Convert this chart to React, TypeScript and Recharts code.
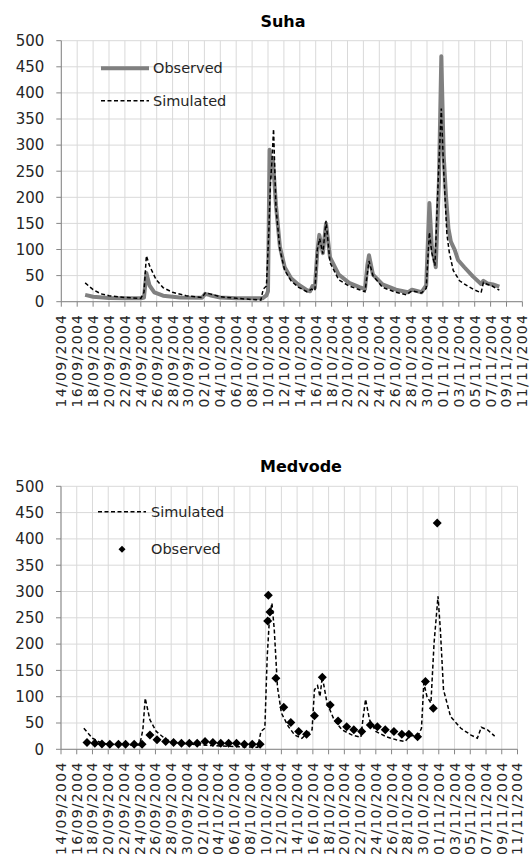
import { ComposedChart, Line, Scatter, XAxis, YAxis, CartesianGrid } from "recharts";

const tickLabels = [
  "14/09/2004", "16/09/2004", "18/09/2004", "20/09/2004", "22/09/2004",
  "24/09/2004", "26/09/2004", "28/09/2004", "30/09/2004", "02/10/2004",
  "04/10/2004", "06/10/2004", "08/10/2004", "10/10/2004", "12/10/2004",
  "14/10/2004", "16/10/2004", "18/10/2004", "20/10/2004", "22/10/2004",
  "24/10/2004", "26/10/2004", "28/10/2004", "30/10/2004", "01/11/2004",
  "03/11/2004", "05/11/2004", "07/11/2004", "09/11/2004", "11/11/2004",
];
const tickDays = tickLabels.map((_, i) => i * 2);
const yTicks = [0, 50, 100, 150, 200, 250, 300, 350, 400, 450, 500];

// Suha (days since 14/09/2004)
const suhaObsDays = [
  3, 4, 6, 8, 10, 10.4, 10.7, 11.1, 11.7, 12.8, 14.9, 17.7, 18.1, 18.7, 20, 22.1,
  25.3, 25.8, 26.0, 26.2, 26.4, 26.6, 27.0, 27.5, 28.1, 28.9, 29.8, 30.9, 31.3,
  31.6, 31.9, 32.2, 32.45, 32.9, 33.3, 33.8, 34.9, 36.2, 37.5, 38.2, 38.5, 38.7,
  39.2, 40.4, 42.1, 43.6, 44.1, 45.3, 45.9, 46.3, 46.6, 47.1, 47.5, 47.8, 48.1,
  48.4, 48.7, 49.0, 49.5, 49.9, 50.7, 51.8, 52.8, 53.1, 53.6, 54.3, 55.1,
];
const suhaObsFlow = [
  13, 9.6, 7, 6.5, 6.4, 8, 55, 31, 18, 11.5, 8, 7.5, 15, 12.5, 8, 6.4,
  6.4, 12, 20, 291, 240, 276, 185, 105, 66, 45, 33, 22, 20,
  30, 27, 95, 128, 93, 150, 85, 52, 36, 28, 24, 70, 89,
  52, 33, 23, 18, 23, 18, 31, 189, 107, 66, 230, 470, 280,
  200, 140, 115, 99, 80, 66, 48, 34, 40, 35, 33, 29,
];
const suhaSimDays = [
  3, 4, 5, 6, 8, 10, 10.4, 10.7, 11.1, 11.9, 12.8, 14, 15.7, 17.7, 18.1, 18.7, 20,
  22.1, 25.1, 25.4, 25.8, 26.1, 26.3, 26.5, 26.7, 27.0, 27.5, 28.1, 28.9, 29.8,
  30.9, 31.5, 31.9, 32.2, 32.5, 32.9, 33.3, 33.8, 34.9, 36.2, 37.5, 38.2, 38.7,
  39.2, 40.4, 42.1, 43.4, 44.1, 45.3, 45.9, 46.3, 46.6, 47.0, 47.4, 47.8, 48.1,
  48.5, 48.8, 49.3, 50.1, 51.1, 51.9, 52.8, 53.1, 53.5, 54.2, 55.1,
];
const suhaSimFlow = [
  36, 23, 15, 11.5, 8, 6.4, 18, 88, 69, 43, 27, 18, 11.5, 8, 16.6, 15, 9.6,
  6.4, 3, 24, 30, 133, 225, 270, 331, 180, 100, 60, 40, 28,
  19, 24, 21, 100, 121, 92, 155, 75, 42, 30, 23, 19, 78,
  50, 27.5, 18, 13.4, 21, 16.6, 25.5, 133, 94, 69, 229, 370, 250,
  130, 95, 60, 40, 30, 23, 17, 37, 34, 30, 22,
];

// Medvode
const medSimDays = [
  2.9, 4, 5.2, 7.4, 10, 10.4, 10.7, 11.3, 12.1, 13.4, 15.1, 18.1, 22.4, 25, 25.4,
  25.9, 26.2, 26.5, 26.8, 27.1, 27.5, 28, 28.9, 29.7, 30.6, 31.2, 31.9, 32.2,
  32.6, 32.9, 33.2, 33.8, 34.7, 35.7, 37, 38.1, 38.4, 38.7, 39.2, 40, 41.3,
  42.6, 43.7, 44.3, 45.4, 45.8, 46.1, 46.5, 47, 47.4, 47.9, 48.2, 48.6, 49.5,
  50.8, 52.1, 52.9, 53.4, 54.2, 55.1,
];
const medSimFlow = [
  40, 21, 11.4, 8, 8, 37, 97, 56, 34, 18, 11.4, 8, 5, 4, 34,
  40, 176, 253, 278, 227, 119, 69, 43, 27, 21, 29, 37, 113,
  121, 100, 138, 88, 56, 37, 27, 23, 62, 95, 56, 34, 24,
  18, 15, 25, 27, 40, 126, 100, 88, 202, 291, 227, 113, 62,
  40, 27, 21, 42, 37, 25,
];
const medObsDays = [
  3.3, 4.3, 5.2, 6.2, 7.3, 8.2, 9.3, 10.3, 11.3, 12.2, 13.3, 14.3, 15.3, 16.3,
  17.3, 18.3, 19.3, 20.3, 21.3, 22.3, 23.3, 24.3, 25.3, 26.26, 26.34, 26.55,
  27.3, 28.3, 29.2, 30.2, 31.2, 32.2, 33.2, 34.2, 35.2, 36.3, 37.2, 38.2, 39.3,
  40.2, 41.2, 42.3, 43.3, 44.2, 45.3, 46.3, 47.3, 47.8,
];
const medObsFlow = [
  12.7, 11.4, 10, 9.5, 9.5, 9.5, 9.5, 9.5, 27, 18, 15, 12.7, 11.4, 11.4,
  11.4, 15, 12.7, 11.4, 11.4, 11.4, 9.5, 9.5, 9.5, 244, 293, 261,
  135, 80, 51, 34, 28.5, 64, 137, 84, 54, 43, 37, 34, 46,
  43, 37, 34, 28.5, 28.5, 24, 129, 78, 430,
];

const toPoints = (days: number[], flow: number[]) =>
  days.map((d, i) => ({ day: d, value: flow[i] }));

const suhaObs = toPoints(suhaObsDays, suhaObsFlow);
const suhaSim = toPoints(suhaSimDays, suhaSimFlow);
const medSim = toPoints(medSimDays, medSimFlow);
const medObs = toPoints(medObsDays, medObsFlow);

const FONT = "'DejaVu Sans', sans-serif";
const AXIS = "#868686";
const GRID = "#d9d9d9";
const TEXT = "#262626";
const OBS_GREY = "#808080";
const DASH = "4 2.5";

// rotated date labels, reading bottom to top, ending just under the axis
const DateTick = ({ x, y, payload }: any) => {
  const label = tickLabels[Math.round(payload.value / 2)];
  const ty = y + 7;
  return (
    <text
      x={x}
      y={ty}
      dy={5}
      transform={`rotate(-90, ${x}, ${ty})`}
      textAnchor="end"
      fontSize={14}
      fontFamily={FONT}
      fill={TEXT}
      letterSpacing={1.3}
    >
      {label}
    </text>
  );
};

const Diamond = ({ cx, cy }: any) => (
  <path d={`M${cx},${cy - 4.5}L${cx + 4.5},${cy}L${cx},${cy + 4.5}L${cx - 4.5},${cy}Z`} fill="#000" />
);

const yTick = { fontSize: 15, fontFamily: FONT, fill: TEXT };

export default function App() {
  return (
    <div style={{ position: "absolute", left: 0, top: 0, width: 531, height: 855, background: "#fff" }}>
      <div style={{ position: "absolute", left: 0, top: 0 }}>
        <ComposedChart width={531} height={420} margin={{ top: 40.7, right: 8.6, left: 0, bottom: 0 }}>
          <CartesianGrid stroke={GRID} />
          <XAxis
            type="number"
            dataKey="day"
            domain={[0, 58]}
            ticks={tickDays}
            interval={0}
            height={118.3}
            tick={<DateTick />}
            tickSize={5}
            tickMargin={0}
            tickLine={{ stroke: AXIS }}
            axisLine={{ stroke: AXIS }}
            allowDataOverflow
          />
          <YAxis
            type="number"
            domain={[0, 500]}
            ticks={yTicks}
            interval={0}
            width={61.3}
            tickSize={5}
            tickMargin={12}
            tick={yTick}
            tickLine={{ stroke: AXIS }}
            axisLine={{ stroke: AXIS }}
          />
          <Line
            data={suhaObs}
            dataKey="value"
            type="linear"
            stroke={OBS_GREY}
            strokeWidth={4}
            strokeLinejoin="round"
            dot={false}
            isAnimationActive={false}
          />
          <Line
            data={suhaSim}
            dataKey="value"
            type="linear"
            stroke="#000"
            strokeWidth={1.5}
            strokeDasharray={DASH}
            dot={false}
            isAnimationActive={false}
          />
        </ComposedChart>
      </div>

      <div style={{ position: "absolute", left: 0, top: 430 }}>
        <ComposedChart width={531} height={425} margin={{ top: 56.3, right: 13.5, left: 0, bottom: 0 }}>
          <CartesianGrid stroke={GRID} />
          <XAxis
            type="number"
            dataKey="day"
            domain={[0, 58]}
            ticks={tickDays}
            interval={0}
            height={105.7}
            tick={<DateTick />}
            tickSize={5}
            tickMargin={0}
            tickLine={{ stroke: AXIS }}
            axisLine={{ stroke: AXIS }}
            allowDataOverflow
          />
          <YAxis
            type="number"
            domain={[0, 500]}
            ticks={yTicks}
            interval={0}
            width={61}
            tickSize={5}
            tickMargin={12}
            tick={yTick}
            tickLine={{ stroke: AXIS }}
            axisLine={{ stroke: AXIS }}
          />
          <Line
            data={medSim}
            dataKey="value"
            type="linear"
            stroke="#000"
            strokeWidth={1.5}
            strokeDasharray={DASH}
            dot={false}
            isAnimationActive={false}
          />
          <Scatter data={medObs} dataKey="value" fill="#000" shape={<Diamond />} isAnimationActive={false} />
        </ComposedChart>
      </div>

      {/* titles and legends */}
      <svg width={531} height={855} style={{ position: "absolute", left: 0, top: 0, pointerEvents: "none" }}>
        <text x={283} y={26.5} textAnchor="middle" fontFamily={FONT} fontWeight="bold" fontSize={16} fill="#000">
          Suha
        </text>
        <line x1={101} y1={68.3} x2={149} y2={68.3} stroke={OBS_GREY} strokeWidth={4} />
        <text x={153} y={68.3} dy="0.35em" fontFamily={FONT} fontSize={14.5} fill={TEXT}>
          Observed
        </text>
        <line x1={101} y1={100.7} x2={149} y2={100.7} stroke="#000" strokeWidth={1.5} strokeDasharray={DASH} />
        <text x={153} y={100.7} dy="0.35em" fontFamily={FONT} fontSize={14.5} fill={TEXT}>
          Simulated
        </text>

        <text x={301} y={472} textAnchor="middle" fontFamily={FONT} fontWeight="bold" fontSize={16} fill="#000">
          Medvode
        </text>
        <line x1={98} y1={511.7} x2={146} y2={511.7} stroke="#000" strokeWidth={1.5} strokeDasharray={DASH} />
        <text x={151} y={511.7} dy="0.35em" fontFamily={FONT} fontSize={14.5} fill={TEXT}>
          Simulated
        </text>
        <path d="M122,545.8L125.5,549.3L122,552.8L118.5,549.3Z" fill="#000" />
        <text x={151} y={549.3} dy="0.35em" fontFamily={FONT} fontSize={14.5} fill={TEXT}>
          Observed
        </text>
      </svg>
    </div>
  );
}
